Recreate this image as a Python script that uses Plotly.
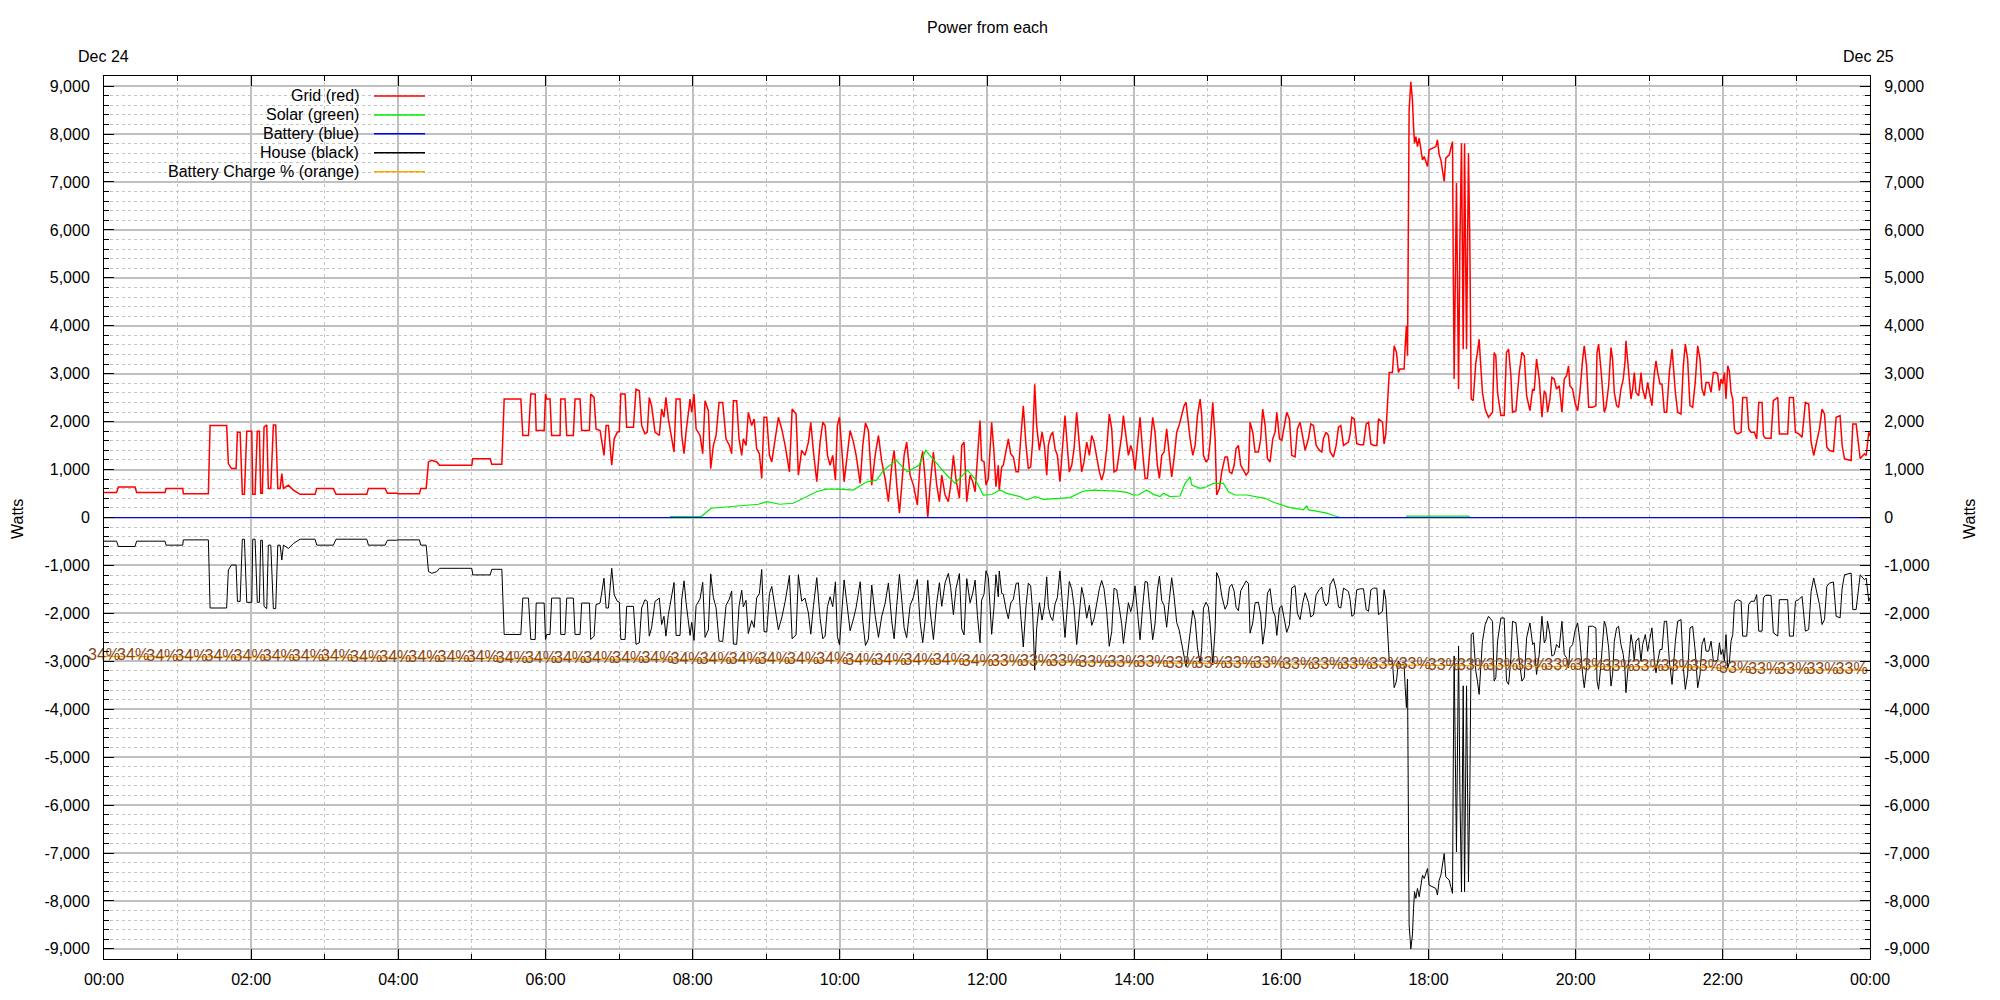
import pandas as pd
import plotly.graph_objects as go

# ---------------- data (minutes after midnight, Dec 24) ----------------
t_min = [
    0, 10.3, 11.7, 25.3, 26.6, 49.8, 50.6, 64.2, 64.7, 85.1,
    86.5, 100, 101.4, 104, 107.7, 108.8, 111, 112.8, 114.5, 116.4,
    120.5, 121.3, 123.2, 125, 126.7, 127.8, 129.1, 130.5, 132.7, 134,
    136, 138.1, 140, 141.7, 143.6, 145, 146.3, 150.4, 154.4, 159.9,
    172.1, 173.5, 187, 189.2, 214.3, 215.6, 229.2, 231.1, 238.7, 240,
    257.2, 258.3, 262.7, 264.6, 267.3, 271.4, 273.5, 299.9, 300.7, 314.9,
    316.2, 324.4, 326.3, 339.9, 341.5, 346.1, 348, 351.6, 352.4, 358.9,
    360, 361, 363.7, 365, 371.9, 372.4, 375.9, 377.3, 382.7, 384.1,
    388.2, 389.5, 395.8, 396.9, 399.6, 401.2, 404.5, 407.7, 409.4, 411.3,
    414, 416, 418.6, 420.2, 421.4, 424.9, 426.2, 431.7, 433.8, 436.5,
    438.4, 441.1, 443, 444.6, 446.5, 449.3, 452.8, 454.7, 456.6, 458.2,
    460.2, 462.9, 464.8, 466.5, 469.7, 471.1, 473, 474.6, 477.9, 479.2,
    481.1, 482.8, 486, 488.2, 490.1, 492.8, 494.7, 496.9, 499.1, 501.5,
    504.5, 507.2, 509.9, 511.8, 513.2, 515.9, 517.8, 520, 521.3, 523.5,
    525.4, 528.1, 530.1, 532.2, 534.4, 536.3, 538.2, 540.4, 542.6, 544.5,
    547.2, 549.9, 552.6, 555.4, 558.9, 561.1, 564.3, 566.2, 568.9, 571.6,
    574.4, 576.3, 578.5, 581.2, 583.9, 586.1, 588, 589.9, 592.1, 594.2,
    596.4, 598, 599.7, 601.6, 603.5, 605.7, 608.4, 611.1, 613.3, 616.6,
    618.7, 620.9, 623.3, 626, 628.8, 631.5, 634.2, 636.9, 639.6, 642.4,
    644.3, 646.4, 648.6, 650.5, 652.4, 654.5, 657.3, 660, 663.2, 665.4,
    667.6, 669.5, 671.7, 673.6, 676.3, 679, 681.2, 683.1, 685.8, 688.5,
    690.4, 692.6, 694.8, 697.5, 699.4, 701.3, 703.5, 706.2, 708.4, 710.3,
    712.2, 714.3, 715.6, 717.6, 719.2, 721.1, 723.8, 725.7, 727.3, 729.2,
    730, 732, 733.3, 735.5, 737.4, 739.3, 741.5, 743.7, 745.6, 747.5,
    749.6, 751.8, 753.7, 755.6, 757.2, 758.9, 760.5, 762.7, 764.9, 766.8,
    768.7, 770, 771.9, 773.6, 775.5, 777.4, 779.5, 781.7, 783.6, 785,
    787.1, 789.1, 791, 793.1, 795.3, 797.2, 799.1, 801.3, 803.5, 805.4,
    807.3, 809.5, 811.6, 813.5, 815.4, 817.6, 819.7, 821.7, 823.6, 825.8,
    827.9, 829.8, 831.2, 833.4, 835.3, 837.2, 838.8, 840.7, 842.6, 844.8,
    846.9, 848.9, 850.8, 852.9, 855.1, 857, 858.9, 860.6, 862.5, 864.4,
    866.5, 868.7, 870.6, 872.5, 874.7, 876.6, 878.8, 880.7, 882.3, 883.4,
    885.6, 887.8, 889.7, 891.6, 893.8, 895.1, 896.5, 898.6, 900.5, 901.9,
    904.1, 906, 907.3, 909.5, 911.4, 914.1, 916, 917.7, 919.6, 921.5,
    923.1, 925, 926.9, 929.1, 931.3, 933.2, 934.5, 936.7, 938.6, 941.3,
    943.2, 944.8, 946.8, 948.7, 950.8, 953, 954.9, 956.3, 958.5, 960.4,
    962.3, 964.4, 966.6, 968.5, 971.2, 973.1, 975.3, 977.5, 979.4, 982.1,
    984, 986.2, 988.4, 991.1, 993, 994.3, 996.5, 998.4, 999.8, 1002.5,
    1004.7, 1006.6, 1008.5, 1010.7, 1012.8, 1014.7, 1016.1, 1017.5, 1019.4, 1021.5,
    1024.3, 1027, 1029.2, 1031.1, 1033, 1035.2, 1037.9, 1039.2, 1042.5, 1043.8,
    1045.2, 1046.6, 1048, 1050.6, 1052, 1053.9, 1055.5, 1056.6, 1060.1, 1061,
    1062, 1062.9, 1063.4, 1064.2, 1065.6, 1066.4, 1066.9, 1067.8, 1068.6, 1069.7,
    1071, 1072.4, 1073.8, 1075.1, 1076.5, 1077.9, 1079.2, 1080.5, 1083.3, 1086,
    1087.3, 1088.7, 1090.1, 1091.4, 1092.8, 1094.1, 1096.9, 1098.2, 1099.6, 1100.1,
    1100.9, 1102.8, 1104.5, 1105.6, 1106.9, 1108.3, 1109.4, 1111, 1112.6, 1113.7,
    1114.8, 1116.4, 1118.6, 1119.9, 1121.3, 1122.6, 1124, 1126.2, 1128.9, 1132.2,
    1133.5, 1134.9, 1136.3, 1139, 1141.7, 1143.6, 1145.3, 1147.2, 1148.5, 1151.3,
    1154, 1156.2, 1158.1, 1160, 1162.7, 1164.9, 1166.2, 1168.1, 1170.3, 1172.5,
    1174.4, 1175.7, 1177.1, 1179, 1180.6, 1182.5, 1184.4, 1186.6, 1188.8, 1190.7,
    1192.6, 1194.2, 1195.3, 1197.5, 1199.7, 1201.6, 1203.5, 1205.7, 1207, 1208.9,
    1210.6, 1213.8, 1216.5, 1217.4, 1218.7, 1220.6, 1223.3, 1224.7, 1226.9, 1228.8,
    1230.1, 1231.5, 1233.4, 1235, 1236.9, 1238.8, 1240.2, 1241, 1242.4, 1243.7,
    1245.1, 1246.5, 1247.8, 1249.2, 1251.4, 1253.3, 1254.6, 1256.8, 1258.7, 1260.1,
    1262.2, 1264.2, 1265.5, 1266.9, 1268.8, 1270.4, 1272.3, 1274.2, 1276.4, 1278.6,
    1279.6, 1281.3, 1283.2, 1285.9, 1287.8, 1289.4, 1291.3, 1293.2, 1295.4, 1297.5,
    1299.5, 1301.4, 1303, 1304.9, 1306.3, 1308.5, 1310.4, 1312.3, 1314.5, 1315.8,
    1317.2, 1318.5, 1319.9, 1321.3, 1322.6, 1324, 1325.3, 1326.7, 1328.1, 1329.4,
    1330.2, 1332.1, 1334.9, 1336.2, 1339.5, 1341.1, 1343, 1345.7, 1347.6, 1349.3,
    1352, 1353.1, 1354.7, 1359.3, 1361.2, 1364.8, 1366.1, 1372.9, 1374.3, 1377.5,
    1379.2, 1381.9, 1384.6, 1387.3, 1390, 1392, 1394.1, 1396, 1398.8, 1400.9,
    1402.9, 1404.8, 1407, 1410.2, 1412.4, 1415.6, 1417.3, 1419.2, 1424.6, 1426,
    1428.7, 1430.1, 1432, 1435.5, 1436.9, 1439, 1440,
]

grid_w = [
    524, 524, 635, 635, 524, 524, 607, 607, 497, 497,
    1918, 1918, 1125, 1021, 1021, 1780, 1780, 483, 483, 1800,
    1800, 483, 483, 1800, 1800, 504, 504, 1884, 1932, 607,
    607, 1932, 1932, 607, 607, 918, 607, 676, 573, 483,
    483, 607, 607, 483, 483, 607, 607, 504, 504, 497,
    497, 607, 607, 1159, 1194, 1159, 1090, 1090, 1228, 1228,
    1111, 1111, 2470, 2470, 1711, 1711, 2574, 2574, 1815, 1815,
    2574, 2470, 2470, 1711, 1711, 2470, 2470, 1711, 1711, 2470,
    2470, 1815, 1815, 2574, 2505, 1849, 1815, 1297, 1918, 1918,
    1090, 1642, 1780, 1794, 2574, 2574, 1884, 1884, 2677, 2643,
    1918, 1746, 1780, 2505, 2332, 1780, 1711, 2263, 2091, 2505,
    2056, 1642, 1366, 2470, 2470, 1711, 1332, 1780, 2470, 2194,
    2574, 1849, 1711, 1332, 2436, 2229, 1021, 1504, 1711, 2401,
    2401, 1642, 1504, 1332, 2436, 2436, 1642, 1297, 1642, 1504,
    2194, 1918, 2056, 1435, 1332, 814, 2091, 2091, 1297, 1159,
    1642, 2091, 1849, 1504, 952, 2263, 2160, 883, 1400, 1297,
    1573, 1987, 1366, 745, 1573, 1987, 1918, 1297, 1090, 1297,
    780, 1918, 2091, 1504, 745, 1228, 1815, 1573, 1297, 711,
    1504, 1973, 1815, 676, 1297, 1711, 1159, 814, 331, 1090,
    1400, 676, 90, 676, 1297, 1573, 883, 676, 262, 1090,
    1380, 814, 0, 676, 1366, 676, 331, 883, 469, 331,
    676, 1297, 780, 400, 1504, 1573, 331, 883, 745, 538,
    1366, 2022, 1194, 1159, 676, 814, 1987, 1366, 642, 1090,
    573, 1056, 1090, 1435, 1642, 1332, 1263, 952, 952, 1642,
    2332, 1504, 1021, 1056, 1573, 2781, 1918, 1400, 1780, 1504,
    883, 1504, 1711, 1780, 1435, 1297, 745, 1504, 2125, 1642,
    952, 1090, 1435, 2194, 1504, 952, 1159, 1573, 1297, 1711,
    1573, 1228, 952, 780, 952, 1435, 2160, 1849, 952, 987,
    1366, 1711, 2125, 1642, 1297, 1504, 1366, 987, 1573, 2091,
    1366, 814, 814, 1504, 2091, 1780, 1090, 814, 1297, 1366,
    1849, 1297, 849, 1228, 1780, 1918, 2160, 2332, 2401, 2125,
    1642, 1297, 1504, 2125, 2470, 2125, 1297, 1159, 1228, 1573,
    2401, 1642, 469, 607, 952, 1263, 1263, 952, 918, 1090,
    1435, 1504, 1090, 987, 883, 952, 1987, 1780, 1366, 1366,
    1642, 2263, 1918, 1228, 1159, 1642, 1780, 2194, 1642, 1608,
    1918, 2194, 2056, 1297, 1263, 1849, 1987, 1642, 1400, 1642,
    1953, 1918, 1504, 1400, 1366, 1642, 1780, 1711, 1366, 1263,
    1504, 1884, 1918, 1504, 1539, 1573, 1746, 2091, 2056, 1539,
    1518, 1518, 1953, 1987, 1539, 1504, 1504, 2056, 1987, 1536,
    1745, 2403, 3026, 3026, 3581, 3443, 3026, 3096, 3096, 3581,
    3997, 3373, 6769, 8501, 9090, 8848, 8709, 8155, 7808, 7947,
    7739, 7912, 7670, 7462, 7531, 7392, 7323, 7670, 7704, 7739,
    7877, 7566, 7462, 7184, 7011, 7496, 7566, 7704, 7843, 5521,
    2888, 6976, 2680, 5730, 7808, 3512, 7808, 3512, 7600, 5730,
    2472, 2437, 3235, 3443, 3720, 3165, 2611, 2264, 2091, 2195,
    3443, 3373, 2611, 2126, 2126, 3443, 3512, 2957, 2195, 2229,
    3026, 3443, 3373, 2541, 2229, 2680, 2645, 3304, 2888, 2091,
    2645, 2576, 2195, 2472, 2922, 2888, 2680, 2749, 2195, 2888,
    2957, 3165, 2749, 2680, 2368, 2229, 2611, 3304, 3581, 3165,
    2299, 2299, 2333, 3443, 3616, 3096, 2195, 2299, 2749, 3547,
    3304, 2611, 2333, 2299, 2680, 2888, 3235, 3685, 3235, 2888,
    2472, 2680, 3026, 2611, 2541, 3026, 2680, 2472, 2818, 2611,
    2333, 3026, 3269, 3026, 2784, 2784, 2195, 2195, 3026, 3512,
    3096, 2611, 2195, 2160, 3165, 3616, 3304, 2333, 2299, 2818,
    3581, 3304, 2680, 2541, 2818, 2818, 2611, 3026, 3026, 2991,
    2645, 2888, 2784, 3026, 2472, 3165, 3061, 2611, 2472, 1848,
    1778, 1744, 1778, 2505, 2505, 1848, 1778, 1778, 1640, 2401,
    2401, 1709, 1654, 1654, 2436, 2505, 1744, 1744, 2505, 2505,
    1778, 1744, 1675, 2401, 2367, 1571, 1294, 1502, 1848, 2263,
    2159, 1467, 1398, 1377, 2090, 2124, 1502, 1225, 1190, 1951,
    1951, 1640, 1225, 1329, 1294, 1778, 1700,
]

house_w = [
    -494, -494, -605, -605, -494, -494, -577, -577, -467, -467,
    -1888, -1888, -1095, -991, -991, -1750, -1750, -453, -453, -1770,
    -1770, -453, -453, -1770, -1770, -474, -474, -1854, -1902, -577,
    -577, -1902, -1902, -577, -577, -888, -577, -646, -543, -453,
    -453, -577, -577, -453, -453, -577, -577, -474, -474, -467,
    -467, -577, -577, -1129, -1164, -1129, -1060, -1060, -1198, -1198,
    -1081, -1081, -2440, -2440, -1681, -1681, -2544, -2544, -1785, -1785,
    -2544, -2440, -2440, -1681, -1681, -2440, -2440, -1681, -1681, -2440,
    -2440, -1785, -1785, -2544, -2475, -1819, -1785, -1267, -1888, -1888,
    -1060, -1612, -1750, -1764, -2544, -2544, -1854, -1854, -2647, -2613,
    -1888, -1716, -1750, -2475, -2302, -1750, -1681, -2233, -2061, -2475,
    -2026, -1632, -1356, -2460, -2460, -1701, -1322, -1770, -2460, -2184,
    -2564, -1839, -1701, -1352, -2501, -2344, -1176, -1671, -1884, -2579,
    -2586, -1834, -1702, -1533, -2640, -2646, -1855, -1515, -1862, -1729,
    -2422, -2151, -2294, -1678, -1585, -1084, -2376, -2392, -1587, -1439,
    -1908, -2343, -2097, -1757, -1212, -2529, -2450, -1193, -1745, -1682,
    -1995, -2434, -1841, -1255, -2101, -2530, -2474, -1860, -1653, -1860,
    -1343, -2481, -2654, -2064, -1302, -1781, -2363, -2116, -1875, -1341,
    -2167, -2670, -2535, -1409, -2042, -2501, -2059, -1794, -1366, -2180,
    -2530, -1831, -1185, -1721, -2297, -2508, -1838, -1661, -1292, -2170,
    -2610, -2154, -1310, -1936, -2546, -1776, -1361, -1853, -1364, -1166,
    -1461, -2027, -1475, -1170, -2324, -2448, -1276, -1778, -1575, -1308,
    -2046, -2612, -1724, -1598, -1111, -1254, -2437, -1866, -1192, -1655,
    -1116, -1586, -1600, -1915, -2112, -1787, -1702, -1377, -1362, -2040,
    -2702, -1844, -1371, -1426, -1961, -3183, -2308, -1778, -2140, -1856,
    -1238, -1862, -2075, -2150, -1805, -1667, -1115, -1878, -2503, -2022,
    -1335, -1490, -1865, -2649, -1984, -1457, -1682, -2101, -1831, -2251,
    -2116, -1768, -1489, -1314, -1484, -1964, -2687, -2375, -1476, -1509,
    -1881, -2219, -2628, -2138, -1777, -1964, -1808, -1426, -2012, -2551,
    -1858, -1336, -1349, -2004, -2551, -2220, -1510, -1221, -1737, -1831,
    -2289, -1707, -1257, -1640, -2195, -2336, -2670, -2962, -3111, -2885,
    -2461, -1937, -2124, -2720, -3047, -2710, -1892, -1767, -1858, -2219,
    -3076, -2323, -1150, -1288, -1633, -1913, -1813, -1452, -1393, -1535,
    -1874, -1943, -1529, -1426, -1322, -1382, -2412, -2200, -1779, -1766,
    -2032, -2643, -2288, -1578, -1484, -1937, -2055, -2459, -1889, -1840,
    -2135, -2394, -2238, -1469, -1423, -2002, -2130, -1772, -1570, -1771,
    -2075, -2033, -1610, -1496, -1454, -1722, -1844, -1761, -1401, -1274,
    -1500, -1868, -1888, -1474, -1509, -1543, -1716, -2061, -2026, -1509,
    -1488, -1488, -1923, -1957, -1509, -1474, -1474, -2026, -1957, -1506,
    -1715, -2373, -2996, -2996, -3551, -3413, -2996, -3066, -3066, -3551,
    -3967, -3373, -6769, -8501, -9000, -8848, -8709, -8155, -7808, -7947,
    -7739, -7912, -7670, -7462, -7531, -7392, -7323, -7670, -7704, -7739,
    -7877, -7566, -7462, -7184, -7011, -7496, -7566, -7704, -7843, -5521,
    -2888, -6976, -2680, -5730, -7808, -3512, -7808, -3512, -7600, -5700,
    -2442, -2407, -3205, -3413, -3690, -3135, -2581, -2234, -2061, -2165,
    -3413, -3343, -2581, -2096, -2096, -3413, -3482, -2927, -2165, -2199,
    -2996, -3413, -3343, -2511, -2199, -2650, -2615, -3274, -2858, -2061,
    -2615, -2546, -2165, -2442, -2892, -2858, -2650, -2719, -2165, -2858,
    -2927, -3135, -2719, -2650, -2338, -2199, -2581, -3274, -3551, -3135,
    -2269, -2269, -2303, -3413, -3586, -3066, -2165, -2269, -2719, -3517,
    -3274, -2581, -2303, -2269, -2650, -2858, -3205, -3655, -3205, -2858,
    -2442, -2650, -2996, -2581, -2511, -2996, -2650, -2442, -2788, -2581,
    -2303, -2996, -3239, -2996, -2754, -2754, -2165, -2165, -2996, -3482,
    -3066, -2581, -2165, -2130, -3135, -3586, -3274, -2303, -2269, -2788,
    -3551, -3274, -2650, -2511, -2788, -2788, -2581, -2996, -2996, -2961,
    -2615, -2858, -2754, -2996, -2442, -3135, -3031, -2581, -2442, -1818,
    -1748, -1714, -1748, -2475, -2475, -1818, -1748, -1748, -1610, -2371,
    -2371, -1679, -1624, -1624, -2406, -2475, -1714, -1714, -2475, -2475,
    -1748, -1714, -1645, -2371, -2337, -1541, -1264, -1472, -1818, -2233,
    -2129, -1437, -1368, -1347, -2060, -2094, -1472, -1195, -1160, -1921,
    -1921, -1610, -1195, -1299, -1264, -1748, -1670,
]

solar_t = [
    0, 461.6, 462, 487, 495, 510, 527, 533.6, 540.4, 551,
    562, 573, 581, 589, 600, 611, 622, 630, 635.7, 646,
    655, 664.6, 670, 678, 686, 694, 704, 710, 717, 724,
    730.6, 736, 741.5, 746.9, 752.4, 759.2, 766, 774.1, 779.5, 787.7,
    791.8, 798.6, 806.7, 817.6, 825.8, 833.9, 839.4, 843.4, 850.2, 855.7,
    861.1, 863.8, 869.3, 877.4, 881.5, 885.6, 887, 893.8, 899.2, 904.6,
    912.8, 916.9, 922.3, 931.8, 940, 946.8, 953.6, 960.4, 967.2, 974,
    978, 980.8, 982.1, 986.2, 991.6, 997.1, 1002.5, 1006.6, 1008, 1062,
    1062.5, 1113, 1113.5, 1440,
]
solar_w = [
    0, 0, 20, 20, 193, 228, 262, 276, 331, 276,
    297, 435, 538, 593, 593, 573, 745, 780, 987, 1194,
    952, 1090, 1400, 1159, 918, 711, 987, 814, 469, 480,
    573, 504, 469, 435, 366, 435, 380, 400, 400, 414,
    469, 552, 573, 559, 552, 524, 469, 469, 573, 483,
    435, 504, 435, 449, 711, 849, 676, 607, 642, 711,
    711, 538, 469, 469, 435, 400, 317, 262, 207, 179,
    159, 248, 159, 145, 124, 90, 41, 14, 0, 0,
    30, 30, 0, 0,
]

battery_t = [0, 1440]
battery_w = [0, 0]

charge_t = [
    0, 23.75, 47.5, 71.25, 95, 118.75, 142.5, 166.25, 190, 213.75,
    237.5, 261.25, 285, 308.75, 332.5, 356.25, 380, 403.75, 427.5, 451.25,
    475, 498.75, 522.5, 546.25, 570, 593.75, 617.5, 641.25, 665, 688.75,
    712.5, 736.25, 760, 783.75, 807.5, 831.25, 855, 878.75, 902.5, 926.25,
    950, 973.75, 997.5, 1021.25, 1045, 1068.75, 1092.5, 1116.25, 1140, 1163.75,
    1187.5, 1211.25, 1235, 1258.75, 1282.5, 1306.25, 1330, 1353.75, 1377.5, 1401.25,
    1425, 1440,
]
charge_pct = [
    33.90, 33.89, 33.88, 33.87, 33.86, 33.85, 33.84, 33.83, 33.82, 33.81,
    33.80, 33.79, 33.77, 33.76, 33.74, 33.73, 33.72, 33.70, 33.69, 33.68,
    33.66, 33.65, 33.64, 33.62, 33.61, 33.60, 33.59, 33.58, 33.56, 33.54,
    33.52, 33.49, 33.47, 33.45, 33.43, 33.41, 33.39, 33.37, 33.35, 33.34,
    33.32, 33.30, 33.28, 33.27, 33.25, 33.23, 33.21, 33.20, 33.19, 33.18,
    33.17, 33.16, 33.15, 33.14, 33.13, 33.12, 32.94, 32.93, 32.92, 32.91,
    32.89, 32.88,
]

y_ticks = [9000, 8000, 7000, 6000, 5000, 4000, 3000, 2000, 1000, 0,
           -1000, -2000, -3000, -4000, -5000, -6000, -7000, -8000, -9000]

assert len(t_min) == len(grid_w) == len(house_w), (len(t_min), len(grid_w), len(house_w))
assert len(solar_t) == len(solar_w)
assert len(charge_t) == len(charge_pct)

# ---------------- helpers / geometry ----------------
BASE = pd.Timestamp("2023-12-24 00:00:00")
END = BASE + pd.Timedelta(days=1)


def to_time(mins):
    return [BASE + pd.Timedelta(minutes=m) for m in mins]


OFF = 8  # default page body margin of the html page
W, H = 2000 - OFF, 1000 - OFF
# plot-area edges in figure pixels (page pixels minus the body margin)
PL, PR, PT, PB = 104 - OFF, 1870 - OFF, 76 - OFF, 961 - OFF


def px_x(x):  # page pixel -> paper fraction
    return (x - OFF - PL) / (PR - PL)


def px_y(y):
    return (PB - (y - OFF)) / (PB - PT)


FONT = "Liberation Sans, Arial, sans-serif"
FS = 16
Y_RANGE = [-9211, 9211]
CHARGE_SCALE, CHARGE_OFFSET = 285.0, -12558.0  # maps charge % onto the watts axis
y_labels = [f"{v:,}" for v in y_ticks]
charge_y = [c * CHARGE_SCALE + CHARGE_OFFSET for c in charge_pct]

GRID_MAJ = "#c0c0c0"
GRID_MIN = "#c4c4c4"

fig = go.Figure()
fig.add_trace(go.Scatter(x=to_time(t_min), y=grid_w, mode="lines",
                         line=dict(color="#ff0000", width=1.5), name="Grid (red)", hoverinfo="skip"))
fig.add_trace(go.Scatter(x=to_time(solar_t), y=solar_w, mode="lines",
                         line=dict(color="#00ee00", width=1.2), name="Solar (green)", hoverinfo="skip"))
fig.add_trace(go.Scatter(x=to_time(t_min), y=house_w, mode="lines",
                         line=dict(color="#000000", width=1), name="House (black)", hoverinfo="skip"))
fig.add_trace(go.Scatter(x=to_time(charge_t), y=charge_y, mode="lines",
                         line=dict(color="#ffa500", width=1.3), name="Battery Charge % (orange)",
                         hoverinfo="skip"))
fig.add_trace(go.Scatter(x=to_time(charge_t[:-1]), y=charge_y[:-1], mode="text",
                         text=[f"{round(c)}%" for c in charge_pct[:-1]],
                         textposition="middle center", cliponaxis=False,
                         textfont=dict(family=FONT, size=FS, color="#8b4513"),
                         hoverinfo="skip"))
fig.add_trace(go.Scatter(x=to_time(battery_t), y=battery_w, mode="lines", yaxis="y2",
                         line=dict(color="#0000ff", width=1.2), name="Battery (blue)", hoverinfo="skip"))

minor_x = dict(dtick=3600000, ticks="inside", ticklen=5, tickcolor="black",
               showgrid=True, gridcolor=GRID_MIN, griddash="3px,3px", gridwidth=1)
minor_y = dict(tickmode="linear", tick0=0, dtick=200, ticks="inside", ticklen=5, tickcolor="black",
               showgrid=True, gridcolor=GRID_MIN, griddash="3px,3px", gridwidth=1)

fig.update_layout(
    width=W, height=H,
    margin=dict(l=PL, r=W - PR, t=PT, b=H - PB, pad=0),
    plot_bgcolor="white", paper_bgcolor="white",
    showlegend=False, hovermode=False,
    font=dict(family=FONT, size=FS, color="black"),
    xaxis=dict(
        type="date", range=[BASE, END], tick0=BASE, dtick=7200000, tickformat="%H:%M",
        ticks="inside", ticklen=10, tickcolor="black", tickwidth=1,
        showline=True, linecolor="black", linewidth=1, mirror="ticks",
        showgrid=True, gridcolor=GRID_MAJ, gridwidth=2, zeroline=False,
        minor=minor_x, ticklabelstandoff=6,
        tickfont=dict(family=FONT, size=FS, color="black"),
    ),
    yaxis=dict(
        range=Y_RANGE, tickmode="array", tickvals=y_ticks, ticktext=y_labels,
        ticks="inside", ticklen=10, tickcolor="black", tickwidth=1,
        showline=True, linecolor="black", linewidth=1, mirror=True,
        showgrid=True, gridcolor=GRID_MAJ, gridwidth=2, zeroline=False,
        minor=minor_y, ticklabelstandoff=10,
        tickfont=dict(family=FONT, size=FS, color="black"),
    ),
    yaxis2=dict(
        overlaying="y", side="right", range=Y_RANGE,
        tickmode="array", tickvals=y_ticks, ticktext=y_labels,
        ticks="inside", ticklen=10, tickcolor="black", tickwidth=1,
        showline=True, linecolor="black", linewidth=1,
        showgrid=False, zeroline=False,
        minor=dict(tickmode="linear", tick0=0, dtick=200, ticks="inside", ticklen=5,
                   tickcolor="black", showgrid=False),
        ticklabelstandoff=10,
        tickfont=dict(family=FONT, size=FS, color="black"),
    ),
)

annotations = [
    dict(text="Power from each", x=px_x(987), y=px_y(27), xref="paper", yref="paper",
         xanchor="center", yanchor="middle", showarrow=False, font=dict(family=FONT, size=FS)),
    dict(text="Dec 24", x=px_x(103), y=px_y(56), xref="paper", yref="paper",
         xanchor="center", yanchor="middle", showarrow=False, font=dict(family=FONT, size=FS)),
    dict(text="Dec 25", x=px_x(1868), y=px_y(56), xref="paper", yref="paper",
         xanchor="center", yanchor="middle", showarrow=False, font=dict(family=FONT, size=FS)),
    dict(text="Watts", x=px_x(18), y=px_y(520), xref="paper", yref="paper", textangle=-90,
         xanchor="center", yanchor="middle", showarrow=False, font=dict(family=FONT, size=FS)),
    dict(text="Watts", x=px_x(1970), y=px_y(520), xref="paper", yref="paper", textangle=-90,
         xanchor="center", yanchor="middle", showarrow=False, font=dict(family=FONT, size=FS)),
]

legend_items = [("Grid (red)", "#ff0000"), ("Solar (green)", "#00ee00"),
                ("Battery (blue)", "#0000ff"), ("House (black)", "#000000"),
                ("Battery Charge % (orange)", "#ffa500")]
shapes = []
for i, (label, color) in enumerate(legend_items):
    ypx = 96 + i * 19
    annotations.append(dict(text=label, x=px_x(361), y=px_y(ypx), xref="paper", yref="paper",
                            xanchor="right", yanchor="middle", showarrow=False,
                            font=dict(family=FONT, size=FS, color="black")))
    shapes.append(dict(type="line", xref="paper", yref="paper",
                       x0=px_x(374), x1=px_x(425), y0=px_y(ypx), y1=px_y(ypx),
                       line=dict(color=color, width=1.5)))

fig.update_layout(annotations=annotations, shapes=shapes)

fig.write_html("out.html")
